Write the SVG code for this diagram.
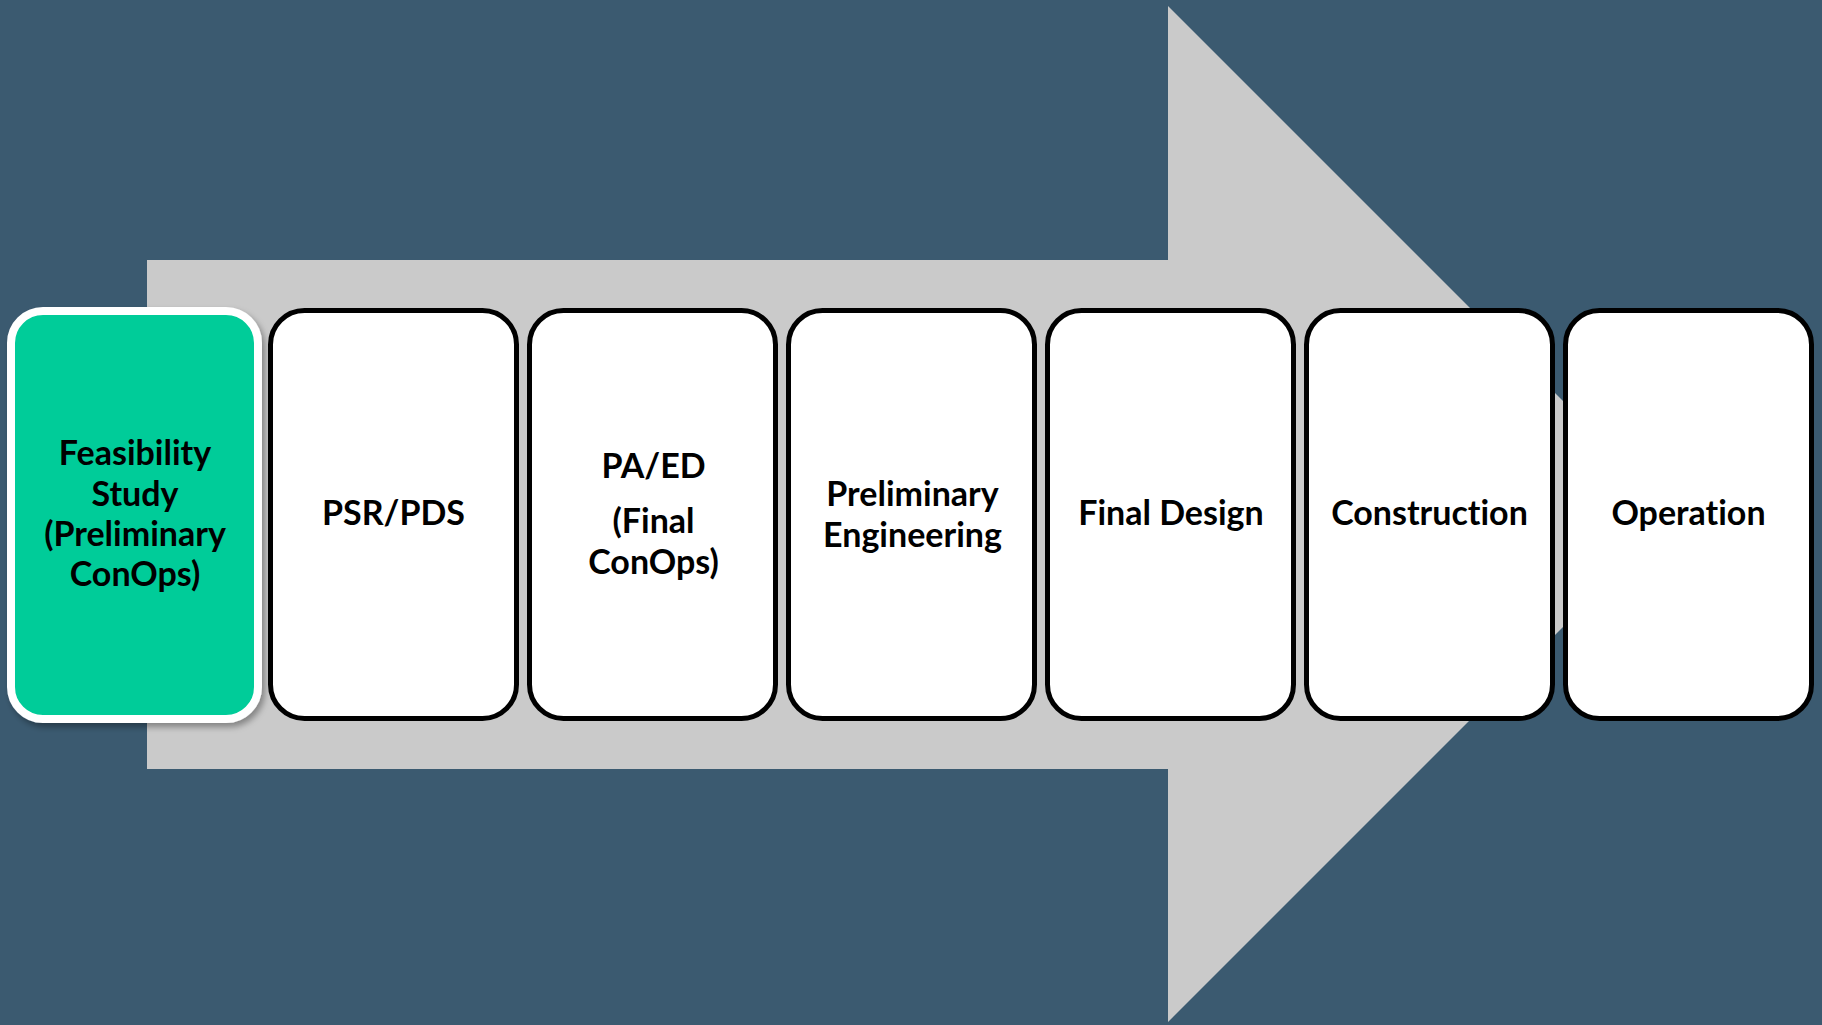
<svg xmlns="http://www.w3.org/2000/svg" width="1822" height="1025" viewBox="0 0 1822 1025">
  <defs>
    <style>
      .box { fill: #FFFFFF; stroke: #000000; stroke-width: 5; }
      .lbl { font-family: "Lato", "Open Sans", "Liberation Sans", sans-serif; font-weight: 700; font-size: 34px; fill: #000000; text-anchor: middle; font-variant-ligatures: none; font-feature-settings: "liga" 0, "dlig" 0; }
    </style>
    <filter id="shadow" x="-10%" y="-10%" width="125%" height="125%">
      <feDropShadow dx="3" dy="4" stdDeviation="3" flood-color="#000000" flood-opacity="0.35"/>
    </filter>
  </defs>
  <rect x="0" y="0" width="1822" height="1025" fill="#3B5A70"/>
  <g id="connectors">
    <polygon points="147,260 1168,260 1168,6 1676,514 1168,1022 1168,769 147,769" fill="#CACACA"/>
  </g>
  <g id="node-feasibility">
    <rect x="11" y="311" width="247" height="408" rx="32" ry="32" fill="#00CC99" stroke="#FFFFFF" stroke-width="8" filter="url(#shadow)"/>
    <text class="lbl" x="135" y="465">Feasibility</text>
    <text class="lbl" x="135" y="506">Study</text>
    <text class="lbl" x="135" y="546">(Preliminary</text>
    <text class="lbl" x="135" y="586">ConOps)</text>
  </g>
  <g id="node-psr">
    <rect class="box" x="270.5" y="310.5" width="246" height="408" rx="34" ry="34"/>
    <text class="lbl" x="393.5" y="525">PSR/PDS</text>
  </g>
  <g id="node-paed">
    <rect class="box" x="529.5" y="310.5" width="246" height="408" rx="34" ry="34"/>
    <text class="lbl" x="653.5" y="478">PA/ED</text>
    <text class="lbl" x="653.5" y="533">(Final</text>
    <text class="lbl" x="653.5" y="574">ConOps)</text>
  </g>
  <g id="node-prelim">
    <rect class="box" x="788.5" y="310.5" width="246" height="408" rx="34" ry="34"/>
    <text class="lbl" x="912.5" y="506">Preliminary</text>
    <text class="lbl" x="912.5" y="547">Engineering</text>
  </g>
  <g id="node-final">
    <rect class="box" x="1047.5" y="310.5" width="246" height="408" rx="34" ry="34"/>
    <text class="lbl" x="1171" y="525">Final Design</text>
  </g>
  <g id="node-construction">
    <rect class="box" x="1306.5" y="310.5" width="246" height="408" rx="34" ry="34"/>
    <text class="lbl" x="1429.5" y="525">Construction</text>
  </g>
  <g id="node-operation">
    <rect class="box" x="1565.5" y="310.5" width="246" height="408" rx="34" ry="34"/>
    <text class="lbl" x="1688.5" y="525">Operation</text>
  </g>
</svg>
